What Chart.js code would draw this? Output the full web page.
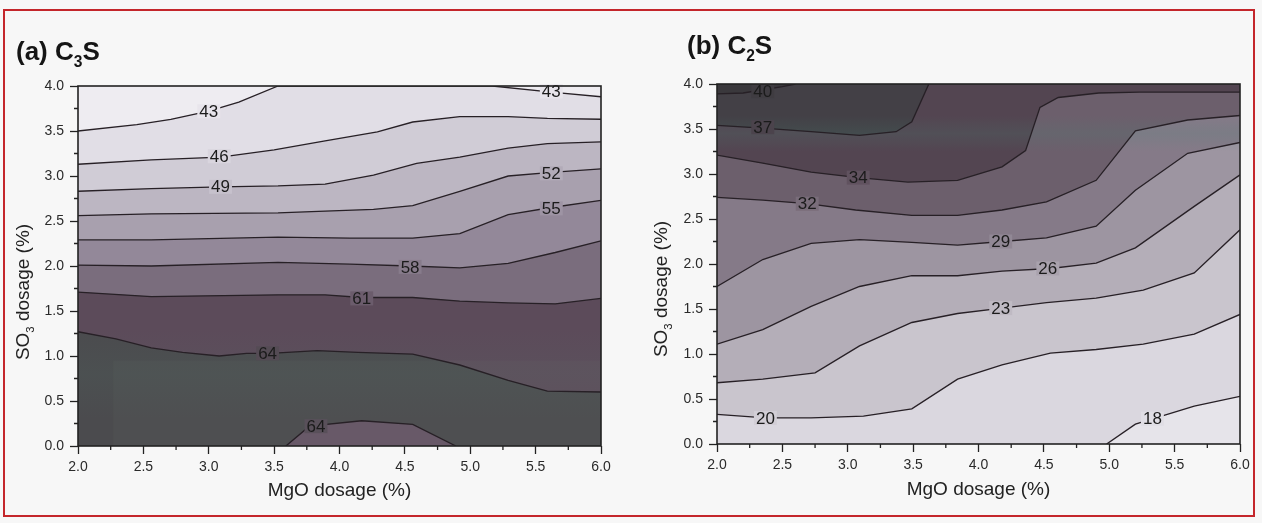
<!DOCTYPE html>
<html><head><meta charset="utf-8">
<script src="https://cdn.jsdelivr.net/npm/chart.js@4.4.1/dist/chart.umd.min.js"></script>
<style>
html,body{margin:0;padding:0;background:#f7f7f7;width:1262px;height:523px;overflow:hidden}
#frame{position:absolute;left:3px;top:9px;width:1252px;height:508px;border:2px solid #c4262b;box-sizing:border-box}
canvas{position:absolute;top:0}
</style></head>
<body>
<div id="frame"></div>
<canvas id="ca" width="631" height="523" style="left:0"></canvas>
<canvas id="cb" width="631" height="523" style="left:631px"></canvas>
<script>
// ---------- tick labels ----------
const mgoTicks = [2.0, 2.5, 3.0, 3.5, 4.0, 4.5, 5.0, 5.5, 6.0];
const so3Ticks = [0.0, 0.5, 1.0, 1.5, 2.0, 2.5, 3.0, 3.5, 4.0];

// ---------- (a) C3S contour lines [MgO, SO3] ----------
const c3sLevels = [43, 46, 49, 52, 55, 58, 61, 64];
const c3s_43 = [[2.0,3.50],[2.45,3.57],[2.71,3.63],[3.0,3.72],[3.23,3.82],[3.53,4.0],[5.17,4.0],[5.64,3.93],[6.0,3.88]];
const c3s_46 = [[2.0,3.13],[2.56,3.18],[3.09,3.21],[3.5,3.29],[3.89,3.39],[4.29,3.49],[4.56,3.60],[4.92,3.66],[5.29,3.66],[5.59,3.64],[6.0,3.63]];
const c3s_49 = [[2.0,2.83],[2.56,2.86],[3.09,2.88],[3.53,2.89],[3.89,2.91],[4.26,3.01],[4.59,3.14],[4.92,3.21],[5.29,3.31],[5.59,3.36],[6.0,3.38]];
const c3s_52 = [[2.0,2.56],[2.56,2.58],[3.53,2.59],[3.89,2.61],[4.26,2.63],[4.56,2.67],[4.92,2.83],[5.29,3.0],[5.62,3.04],[6.0,3.08]];
const c3s_55 = [[2.0,2.29],[2.56,2.29],[3.53,2.32],[4.08,2.31],[4.56,2.31],[4.92,2.36],[5.29,2.57],[5.62,2.65],[6.0,2.73]];
const c3s_58 = [[2.0,2.01],[2.56,2.0],[3.53,2.04],[4.08,2.02],[4.54,2.0],[4.92,1.98],[5.29,2.03],[5.65,2.15],[6.0,2.28]];
const c3s_61 = [[2.0,1.71],[2.56,1.66],[3.53,1.68],[3.89,1.68],[4.17,1.65],[4.56,1.65],[4.92,1.61],[5.29,1.59],[5.65,1.58],[6.0,1.64]];
const c3s_64 = [[2.0,1.27],[2.29,1.19],[2.56,1.09],[2.8,1.04],[3.08,1.0],[3.29,1.03],[3.47,1.03],[3.83,1.06],[4.14,1.04],[4.56,1.02],[4.92,0.90],[5.29,0.73],[5.59,0.61],[6.0,0.60]];
const c3s_64b = [[3.59,0.0],[3.77,0.22],[4.17,0.28],[4.56,0.24],[4.89,0.0]];
const c3sLabelX = [3.0, 5.62, 3.08, 3.09, 5.62, 5.62, 4.54, 4.17, 3.45, 3.82];
const c3sLabelY = [3.72, 3.94, 3.22, 2.88, 3.03, 2.64, 1.99, 1.64, 1.03, 0.22];
const c3sLabelText = ['43','43','46','49','52','55','58','61','64','64'];

// ---------- (b) C2S contour lines [MgO, SO3] ----------
const c2sLevels = [18, 20, 23, 26, 29, 32, 34, 37, 40];
const c2s_18 = [[4.98,0.0],[5.2,0.22],[5.4,0.31],[5.65,0.42],[6.0,0.53]];
const c2s_20 = [[2.0,0.33],[2.37,0.29],[2.72,0.29],[3.12,0.31],[3.49,0.39],[3.84,0.72],[4.18,0.88],[4.55,1.01],[4.9,1.05],[5.26,1.11],[5.65,1.22],[6.0,1.44]];
const c2s_23 = [[2.0,0.68],[2.35,0.72],[2.75,0.79],[3.09,1.09],[3.49,1.35],[3.84,1.45],[4.18,1.51],[4.52,1.57],[4.9,1.62],[5.26,1.71],[5.65,1.90],[6.0,2.38]];
const c2s_26 = [[2.0,1.11],[2.35,1.27],[2.72,1.53],[3.09,1.75],[3.49,1.87],[3.84,1.87],[4.18,1.92],[4.55,1.95],[4.9,2.01],[5.2,2.18],[5.65,2.64],[6.0,2.99]];
const c2s_29 = [[2.0,1.75],[2.35,2.05],[2.72,2.23],[3.09,2.27],[3.49,2.24],[3.84,2.21],[4.18,2.25],[4.52,2.29],[4.9,2.42],[5.2,2.82],[5.6,3.23],[6.0,3.35]];
const c2s_32 = [[2.0,2.74],[2.35,2.71],[2.69,2.67],[3.06,2.60],[3.49,2.54],[3.84,2.54],[4.18,2.60],[4.52,2.69],[4.9,2.93],[5.2,3.48],[5.6,3.60],[6.0,3.65]];
const c2s_34 = [[2.0,3.21],[2.35,3.12],[2.72,3.02],[3.08,2.96],[3.46,2.91],[3.84,2.93],[4.18,3.08],[4.36,3.26],[4.47,3.74],[4.61,3.85],[4.92,3.90],[5.23,3.91],[6.0,3.91]];
const c2s_37 = [[2.0,3.54],[2.35,3.51],[2.72,3.47],[3.09,3.43],[3.37,3.47],[3.49,3.58],[3.62,4.0]];
const c2s_40 = [[2.0,3.89],[2.2,3.90],[2.5,3.97],[2.6,4.0]];
const c2sLabelX = [2.35, 2.35, 3.08, 2.69, 4.17, 4.53, 4.17, 2.37, 5.33];
const c2sLabelY = [3.92, 3.52, 2.96, 2.67, 2.25, 1.95, 1.51, 0.29, 0.28];
const c2sLabelText = ['40','37','34','32','29','26','23','20','18'];

// ---------- styling ----------
const FONT = '"Liberation Sans", Arial, Helvetica, sans-serif';
const LINE = '#272026';
// (a) bands from top (lowest value) to bottom (highest)
const bandsA = ['#eeecf1','#e1dee6','#d0ccd6','#bcb6c2','#a8a0ae','#938899','#7a6d7d','#5c4b5a','#4b4b4e'];
const bumpA = '#675566';
// (b) bands from bottom (lowest value) to top (highest)
const bandsB = ['#e6e4ea','#dad7df','#c9c5cd','#b4aeb8','#9d95a1','#857a88','#6c5f6c','#534551','#434046','#3a383c'];

function hex2rgb(h){return [1,3,5].map(i=>parseInt(h.substr(i,2),16));}
function mix(a,b){const p=hex2rgb(a),q=hex2rgb(b);return 'rgb('+p.map((v,i)=>Math.round((v+q[i])/2)).join(',')+')';}

function lineDS(points, fill, color, order){
  return {data: points.map(p=>({x:p[0], y:p[1]})), borderColor: LINE, borderWidth: 1.35,
          pointRadius: 0, pointHoverRadius: 0, fill: fill, backgroundColor: color, tension: 0, order: order};
}

function drawParts(ctx, parts, x, y, size){
  let cx = x;
  parts.forEach(p=>{
    const s = p.sub ? size*0.6 : size;
    ctx.font = (p.bold?'bold ':'') + s + 'px ' + FONT;
    ctx.fillText(p.t, cx, y + (p.sub ? size*0.26 : 0));
    cx += ctx.measureText(p.t).width;
  });
  return cx - x;
}
function measureParts(ctx, parts, size){
  let w=0; parts.forEach(p=>{const s=p.sub?size*0.6:size; ctx.font=(p.bold?'bold ':'')+s+'px '+FONT; w+=ctx.measureText(p.t).width;}); return w;
}

function decor(cfg){
  return {
    id: 'decor',
    beforeDraw(chart){
      const {ctx, chartArea:a} = chart;
      ctx.save(); ctx.fillStyle = cfg.bg; ctx.fillRect(a.left, a.top, a.width, a.height); ctx.restore();
    },
    beforeDatasetsDraw(chart){
      const {ctx, chartArea:a, scales:{x, y}} = chart;
      ctx.save();
      ctx.beginPath(); ctx.rect(a.left, a.top, a.width, a.height); ctx.clip();
      (cfg.tints||[]).forEach(t=>{
        const y0 = y.getPixelForValue(t.y1), y1 = y.getPixelForValue(t.y0);
        const x0 = x.getPixelForValue(t.x0), x1 = x.getPixelForValue(t.x1);
        if (t.grad){
          const g = ctx.createLinearGradient(0, y0, 0, y1);
          g.addColorStop(0, 'rgba(' + t.rgb + ',0)');
          g.addColorStop(0.5, 'rgba(' + t.rgb + ',' + t.a + ')');
          g.addColorStop(1, 'rgba(' + t.rgb + ',0)');
          ctx.fillStyle = g;
        } else ctx.fillStyle = 'rgba(' + t.rgb + ',' + t.a + ')';
        ctx.fillRect(x0, y0, x1 - x0, y1 - y0);
      });
      ctx.restore();
    },
    afterDatasetsDraw(chart){
      const {ctx, chartArea:a, scales:{x, y}} = chart;
      ctx.save();
      // contour labels
      ctx.font = '17px ' + FONT; ctx.textAlign = 'center'; ctx.textBaseline = 'middle';
      cfg.lx.forEach((vx,i)=>{
        const px = x.getPixelForValue(vx), py = y.getPixelForValue(cfg.ly[i]);
        const w = ctx.measureText(cfg.lt[i]).width + 4;
        ctx.fillStyle = cfg.labelBg(cfg.lt[i], i);
        ctx.fillRect(px - w/2, py - 7, w, 14);
        ctx.fillStyle = '#1b1b1b';
        ctx.fillText(cfg.lt[i], px, py + 1);
      });
      // frame
      ctx.strokeStyle = '#222'; ctx.lineWidth = 1.6;
      ctx.strokeRect(a.left, a.top, a.width, a.height);
      // minor ticks
      ctx.lineWidth = 1.3; ctx.beginPath();
      for (let i=0;i<x.ticks.length-1;i++){
        const px = x.getPixelForValue((x.ticks[i].value + x.ticks[i+1].value)/2);
        ctx.moveTo(px, a.bottom); ctx.lineTo(px, a.bottom + 4);
      }
      for (let i=0;i<y.ticks.length-1;i++){
        const py = y.getPixelForValue((y.ticks[i].value + y.ticks[i+1].value)/2);
        ctx.moveTo(a.left, py); ctx.lineTo(a.left - 4, py);
      }
      ctx.stroke();
      ctx.restore();
    },
    afterDraw(chart){
      const ctx = chart.ctx;
      ctx.save(); ctx.fillStyle = '#151515'; ctx.textAlign = 'left'; ctx.textBaseline = 'alphabetic';
      drawParts(ctx, cfg.title, cfg.titleX, cfg.titleY, 26);
      // y axis title (rotated)
      ctx.fillStyle = '#222';
      ctx.translate(cfg.ytX, cfg.ytY); ctx.rotate(-Math.PI/2);
      const parts = [{t:'SO'},{t:'3',sub:true},{t:' dosage (%)'}];
      const w = measureParts(ctx, parts, 19);
      drawParts(ctx, parts, -w/2, 7, 19);
      ctx.restore();
    }
  };
}

function axes(yWidth, xHeight, titlePad){
  const tickFont = {family: FONT, size: 14};
  return {
    x: {type:'linear', min:2, max:6,
        afterBuildTicks: s => { s.ticks = mgoTicks.map(v=>({value:v})); },
        afterFit: s => { s.height = xHeight; },
        border:{display:false},
        grid:{display:true, drawOnChartArea:false, drawTicks:true, tickLength:8, tickColor:'#222', tickWidth:1.3},
        ticks:{color:'#2a2a2a', font:tickFont, padding:5, maxRotation:0, autoSkip:false, callback: v => Number(v).toFixed(1)},
        title:{display:true, text:'MgO dosage (%)', color:'#222', font:{family:FONT, size:19, lineHeight:1}, padding:{top:0, bottom:titlePad}}},
    y: {type:'linear', min:0, max:4,
        afterBuildTicks: s => { s.ticks = so3Ticks.map(v=>({value:v})); },
        afterFit: s => { s.width = yWidth; },
        border:{display:false},
        grid:{display:true, drawOnChartArea:false, drawTicks:true, tickLength:8, tickColor:'#222', tickWidth:1.3},
        ticks:{color:'#2a2a2a', font:tickFont, padding:6, autoSkip:false, callback: v => Number(v).toFixed(1)}}
  };
}

const common = {responsive:false, animation:false, events:[],
  plugins:{legend:{display:false}, tooltip:{enabled:false}, title:{display:false}, filler:{drawTime:'beforeDatasetsDraw'}}};

// ----- chart (a) -----
const linesA = [c3s_43, c3s_46, c3s_49, c3s_52, c3s_55, c3s_58, c3s_61, c3s_64];
const dsA = linesA.map((pts,k)=>lineDS(pts, 'start', bandsA[k+1], 20 - k));
dsA.push(lineDS(c3s_64b, 'start', bumpA, 1));
new Chart(document.getElementById('ca'), {
  type:'line', data:{datasets: dsA},
  options: Object.assign({}, common, {
    layout:{autoPadding:false, padding:{left:0, right:30, top:86, bottom:0}},
    scales: axes(78, 77, 23)}),
  plugins:[decor({bg: bandsA[0], lx:c3sLabelX, ly:c3sLabelY, lt:c3sLabelText,
    labelBg: (t,i) => { if (i === 9) return mix(bandsA[8], bumpA); const k = c3sLevels.indexOf(+t); return mix(bandsA[k], bandsA[k+1]); },
    title:[{t:'(a) C',bold:true},{t:'3',bold:true,sub:true},{t:'S',bold:true}], titleX:16, titleY:60,
    ytX:22, ytY:292,
    tints:[{x0:2.27, x1:6, y0:0, y1:0.95, rgb:'130,150,140', a:0.06},
           {x0:2, x1:6, y0:0.3, y1:1.3, rgb:'80,125,110', a:0.10, grad:true}]})]
});

// ----- chart (b) -----
const dsB = [lineDS(c2s_18, 'start', bandsB[0], 20)];
const upB = [c2s_20, c2s_23, c2s_26, c2s_29, c2s_32, c2s_34, c2s_37, c2s_40];
upB.forEach((pts,k)=>dsB.push(lineDS(pts, 'end', bandsB[k+2], 19 - k)));
new Chart(document.getElementById('cb'), {
  type:'line', data:{datasets: dsB},
  options: Object.assign({}, common, {
    layout:{autoPadding:false, padding:{left:0, right:22, top:84, bottom:0}},
    scales: axes(86, 79, 24)}),
  plugins:[decor({bg: bandsB[1], lx:c2sLabelX, ly:c2sLabelY, lt:c2sLabelText,
    labelBg: (t) => { const k = c2sLevels.indexOf(+t); return mix(bandsB[k], bandsB[k+1]); },
    title:[{t:'(b) C',bold:true},{t:'2',bold:true,sub:true},{t:'S',bold:true}], titleX:56, titleY:54,
    ytX:29, ytY:289,
    tints:[{x0:2, x1:6, y0:3.25, y1:3.65, rgb:'70,135,118', a:0.16, grad:true}]})]
});
</script>
</body></html>
